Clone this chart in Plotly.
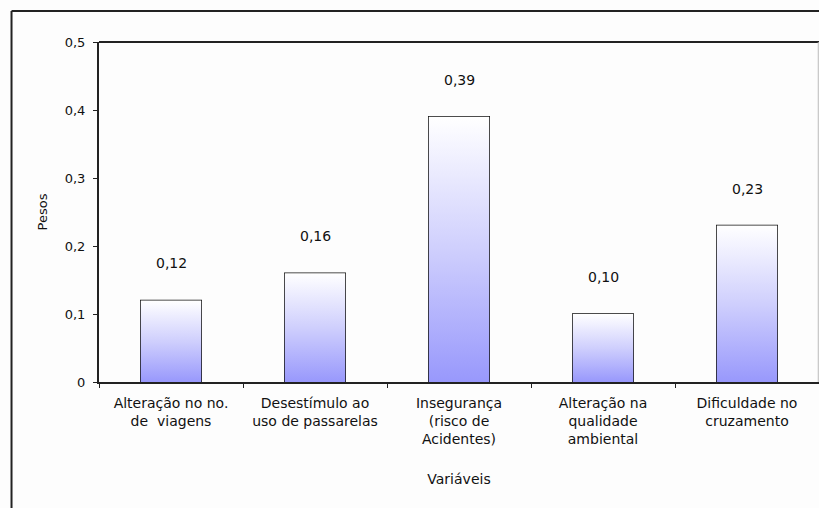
import plotly.graph_objects as go

# Pesos atribuídos a cada variável
categorias = [
    "Alteração no no.<br>de  viagens",
    "Desestímulo ao<br>uso de passarelas",
    "Insegurança<br>(risco de<br>Acidentes)",
    "Alteração na<br>qualidade<br>ambiental",
    "Dificuldade no<br>cruzamento",
]
pesos = [0.12, 0.16, 0.39, 0.10, 0.23]
rotulos = ["0,12", "0,16", "0,39", "0,10", "0,23"]

y_ticks = [0, 0.1, 0.2, 0.3, 0.4, 0.5]
y_tick_labels = ["0", "0,1", "0,2", "0,3", "0,4", "0,5"]

FONT = "DejaVu Sans, Verdana, sans-serif"
LARGURA = 0.42  # largura relativa de cada barra

fig = go.Figure()

# Preenchimento em degradê (branco no topo, azul-lilás na base)
for i, v in enumerate(pesos):
    x0, x1 = i - LARGURA / 2, i + LARGURA / 2
    fig.add_trace(go.Scatter(
        x=[x0, x1, x1, x0, x0], y=[0, 0, v, v, 0],
        mode="lines", fill="toself", line=dict(width=0),
        fillgradient=dict(type="vertical",
                          colorscale=[[0, "#9898fc"], [0.5, "#cfcffd"], [1, "#ffffff"]]),
        xaxis="x2", yaxis="y", hoverinfo="skip", showlegend=False,
    ))

# Contorno das barras no eixo de categorias
fig.add_trace(go.Bar(
    x=categorias, y=pesos,
    marker=dict(color="rgba(0,0,0,0)", line=dict(color="#111111", width=1.5)),
    showlegend=False, hoverinfo="skip",
))

# Rótulos de valor acima das barras
for cat, v, txt in zip(categorias, pesos, rotulos):
    fig.add_annotation(x=cat, y=v, text=txt, showarrow=False,
                       yanchor="middle", yshift=37,
                       font=dict(family=FONT, size=14, color="#111111"))

fig.update_layout(
    width=819, height=508,
    margin=dict(l=99, r=0, t=42, b=126),
    paper_bgcolor="#fdfdfd", plot_bgcolor="#fdfdfd",
    bargap=1 - LARGURA,
    font=dict(family=FONT, size=13, color="#111111"),
    xaxis=dict(
        type="category", tickson="boundaries", ticks="outside", ticklen=4,
        tickcolor="#222222", showline=True, linecolor="#222222", linewidth=1.5,
        showgrid=False, tickangle=0, ticklabelstandoff=7,
        tickfont=dict(size=14),
        title=dict(text="Variáveis", standoff=28, font=dict(size=14)),
    ),
    xaxis2=dict(range=[-0.5, 4.5], overlaying="x", visible=False),
    yaxis=dict(
        range=[0, 0.5], tickvals=y_ticks, ticktext=y_tick_labels,
        ticks="outside", ticklen=4, tickcolor="#222222",
        showline=True, linecolor="#222222", linewidth=2,
        showgrid=False, zeroline=False, ticklabelstandoff=5,
        title=dict(text="Pesos", standoff=14, font=dict(size=13)),
    ),
    shapes=[
        # linha superior da área de plotagem
        dict(type="line", xref="paper", yref="paper", x0=0, x1=1, y0=1, y1=1,
             line=dict(color="#222222", width=2)),
        # borda direita (clara)
        dict(type="line", xref="paper", yref="paper", x0=0.999, x1=0.999, y0=0, y1=1,
             line=dict(color="#bbbbbb", width=1)),
        # moldura externa do gráfico: lados esquerdo e superior
        dict(type="line", xref="paper", yref="paper",
             x0=-0.1215, x1=-0.1215, y0=-0.5, y1=1.0912,
             line=dict(color="#222222", width=2)),
        dict(type="line", xref="paper", yref="paper",
             x0=-0.1215, x1=1.05, y0=1.0912, y1=1.0912,
             line=dict(color="#222222", width=2)),
    ],
)

fig.write_html("out.html")
